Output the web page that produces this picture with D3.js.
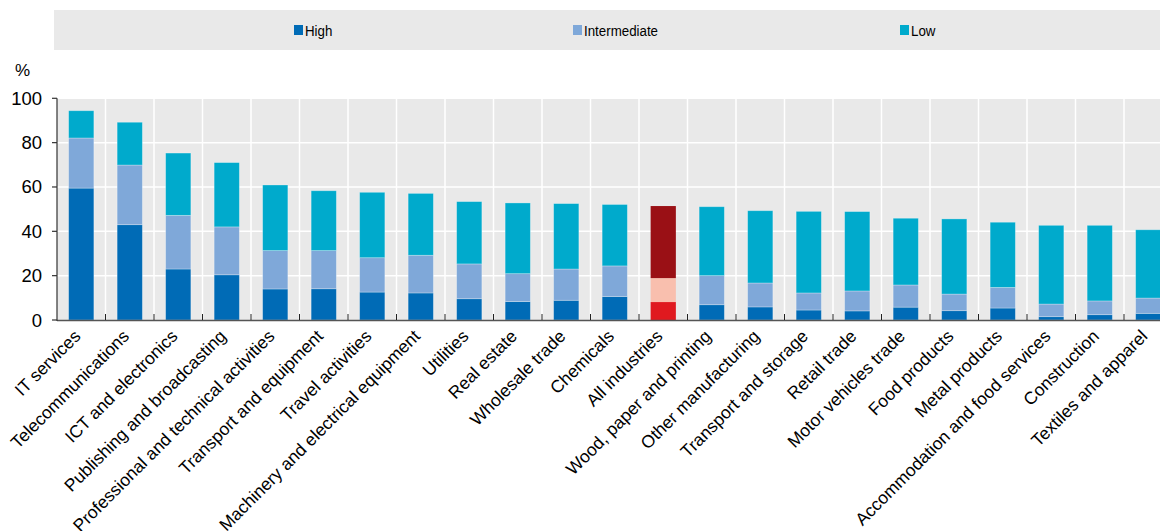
<!DOCTYPE html>
<html><head><meta charset="utf-8">
<script src="https://cdn.jsdelivr.net/npm/d3@7"></script>
<style>
body{margin:0;background:#fff;}
svg{display:block;font-family:"Liberation Sans",Arial,sans-serif;}
</style></head>
<body><svg id="c" width="1160" height="531"></svg>
<script>
const categories = ["IT services","Telecommunications","ICT and electronics","Publishing and broadcasting","Professional and technical activities","Transport and equipment","Travel activities","Machinery and electrical equipment","Utilities","Real estate","Wholesale trade","Chemicals","All industries","Wood, paper and printing","Other manufacturing","Transport and storage","Retail trade","Motor vehicles trade","Food products","Metal products","Accommodation and food services","Construction","Textiles and apparel"];
const high =         [59.5, 43.0, 23.0, 20.4, 14.0, 14.1, 12.6, 12.2, 9.6, 8.3, 8.9, 10.6, 8.1, 6.9, 5.9, 4.5, 4.1, 5.8, 4.2, 5.4, 1.5, 2.4, 3.0];
const intermediate = [22.6, 26.9, 24.2, 21.6, 17.3, 17.2, 15.5, 17.0, 15.7, 12.6, 14.1, 13.8, 10.8, 13.1, 10.8, 7.7, 9.0, 10.0, 7.5, 9.3, 5.7, 6.2, 6.9];
const low =          [12.3, 19.3, 28.1, 29.0, 29.6, 27.0, 29.5, 27.9, 28.1, 31.9, 29.5, 27.7, 32.5, 31.1, 32.6, 36.8, 35.8, 30.1, 33.9, 29.4, 35.5, 34.1, 30.8];
const seriesNames = ["High","Intermediate","Low"];
const yTicks = [0,20,40,60,80,100];

const colors = {High:"#006BB6", Intermediate:"#7FA8D9", Low:"#00AACC"};
const highlight = {High:"#E0191F", Intermediate:"#F9BFAE", Low:"#9A1015"};

const svg = d3.select("#c");
const pLeft = 57, pTop = 98.3, pBottom = 320, step = 48.5;
const x = d3.scaleBand().domain(categories).range([pLeft, pLeft + step*categories.length]).paddingInner(0.48).paddingOuter(0.24);
const y = d3.scaleLinear().domain([0,100]).range([pBottom, pTop]);

// legend
svg.append("rect").attr("x",54).attr("y",10).attr("width",1106).attr("height",40).attr("fill","#E9E9E9");
const legX = [294, 573, 900];
seriesNames.forEach((s,i)=>{
  svg.append("rect").attr("x",legX[i]).attr("y",25).attr("width",9).attr("height",10).attr("fill",colors[s]);
  svg.append("text").attr("transform",`translate(${legX[i]+11},35.5) scale(0.86,1)`).attr("font-size",15.5)
    .attr("fill","#000").text(s);
});

// plot bg
const xEnd = pLeft + step*categories.length;
svg.append("rect").attr("x",pLeft).attr("y",pTop).attr("width",xEnd-pLeft).attr("height",pBottom-pTop).attr("fill","#E9E9E9");
// gridlines
svg.append("g").selectAll("line").data(yTicks.slice(1)).join("line")
  .attr("x1",pLeft).attr("x2",xEnd).attr("y1",d=>y(d)).attr("y2",d=>y(d)).attr("stroke","#fff").attr("stroke-width",1.5);
svg.append("g").selectAll("line").data(categories.slice(1)).join("line")
  .attr("x1",d=>x(d)-x.step()*x.paddingInner()/2).attr("x2",d=>x(d)-x.step()*x.paddingInner()/2)
  .attr("y1",pTop).attr("y2",pBottom).attr("stroke","#fff").attr("stroke-width",1.5);

// stacked bars
const data = categories.map((c,i)=>({cat:c, High:high[i], Intermediate:intermediate[i], Low:low[i]}));
const stack = d3.stack().keys(seriesNames)(data);
stack.forEach(layer=>{
  svg.append("g").selectAll("rect").data(layer).join("rect")
    .attr("x",d=>x(d.data.cat)).attr("width",x.bandwidth())
    .attr("y",d=>y(d[1])).attr("height",d=>y(d[0])-y(d[1]))
    .attr("fill",d=>d.data.cat==="All industries"?highlight[layer.key]:colors[layer.key])
    .attr("stroke",d=>d.data.cat==="All industries"?"none":"rgba(255,255,255,0.35)").attr("stroke-width",0.8);
});

// x axis line + ticks
svg.append("line").attr("x1",pLeft).attr("x2",xEnd).attr("y1",pBottom+0.5).attr("y2",pBottom+0.5).attr("stroke","#555").attr("stroke-width",1.5);
svg.append("g").selectAll("line").data(categories.slice(1)).join("line")
  .attr("x1",d=>x(d)-x.step()*x.paddingInner()/2).attr("x2",d=>x(d)-x.step()*x.paddingInner()/2)
  .attr("y1",pBottom-6).attr("y2",pBottom).attr("stroke","#222").attr("stroke-width",1);
// y axis
svg.append("line").attr("x1",pLeft).attr("x2",pLeft).attr("y1",pTop).attr("y2",pBottom+1).attr("stroke","#333").attr("stroke-width",1.2);
svg.append("g").selectAll("line").data(yTicks).join("line")
  .attr("x1",pLeft-5).attr("x2",pLeft).attr("y1",d=>y(d)).attr("y2",d=>y(d)).attr("stroke","#333").attr("stroke-width",1.2);
svg.append("g").selectAll("text").data(yTicks).join("text")
  .attr("x",42).attr("y",d=>y(d)+6.5).attr("text-anchor","end").attr("font-size",18.5).attr("fill","#000").text(d=>d);
svg.append("text").attr("x",15).attr("y",76).attr("font-size",17).attr("fill","#000").text("%");

// category labels
svg.append("g").selectAll("text").data(categories).join("text")
  .attr("transform",d=>`translate(${x(d)+x.bandwidth()/2-4},${pBottom+13}) rotate(-45)`)
  .attr("text-anchor","end").attr("dy","0.35em").attr("font-size",17.5).attr("fill","#000").text(d=>d);
</script></body></html>
